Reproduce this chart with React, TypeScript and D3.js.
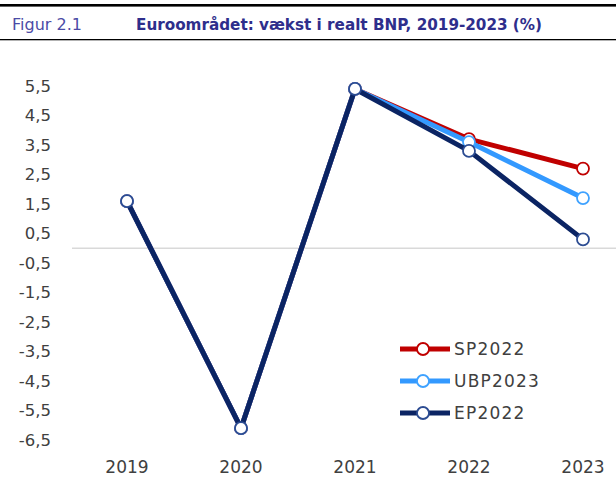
import { useEffect, useRef } from "react";
import * as d3 from "d3";

const W = 616;
const H = 477;

const years = ["2019", "2020", "2021", "2022", "2023"];
const tickValues = [5.5, 4.5, 3.5, 2.5, 1.5, 0.5, -0.5, -1.5, -2.5, -3.5, -4.5, -5.5, -6.5];

const sp2022 = [1.6, -6.1, 5.4, 3.7, 2.7];
const ubp2023 = [1.6, -6.1, 5.4, 3.6, 1.7];
const ep2022 = [1.6, -6.1, 5.4, 3.3, 0.3];

const seriesNames = ["SP2022", "UBP2023", "EP2022"];
const lineColors = ["#C00000", "#3399FF", "#0B2463"];
const markerColors = ["#C00000", "#3FA2FF", "#2C4C92"];

export default function App() {
  const svgRef = useRef<SVGSVGElement | null>(null);

  useEffect(() => {
    const svg = d3.select(svgRef.current);
    svg.selectAll("*").remove();

    // header
    svg.append("rect").attr("x", 0).attr("y", 4).attr("width", W).attr("height", 2.6).attr("fill", "#000");
    svg.append("rect").attr("x", 0).attr("y", 39).attr("width", W).attr("height", 1.3).attr("fill", "#000");
    svg
      .append("text")
      .attr("x", 12)
      .attr("y", 30)
      .attr("fill", "#4B4BA6")
      .style("font-family", "'DejaVu Sans'")
      .style("font-size", "16px")
      .text("Figur 2.1");
    svg
      .append("text")
      .attr("x", 136)
      .attr("y", 30)
      .attr("fill", "#2E2E8C")
      .attr("textLength", 406)
      .attr("lengthAdjust", "spacingAndGlyphs")
      .style("font-family", "'DejaVu Sans'")
      .style("font-weight", "bold")
      .style("font-size", "16px")
      .text("Euroområdet: vækst i realt BNP, 2019-2023 (%)");

    const x = d3.scalePoint().domain(years).range([127, 583]);
    const y = d3.scaleLinear().domain([-6.5, 5.5]).range([440, 86]);

    // zero line
    svg
      .append("line")
      .attr("x1", 72)
      .attr("x2", W)
      .attr("y1", y(0))
      .attr("y2", y(0))
      .attr("stroke", "#D9D9D9")
      .attr("stroke-width", 1.3);

    // y ticks
    svg
      .append("g")
      .selectAll("text")
      .data(tickValues)
      .join("text")
      .attr("x", 51)
      .attr("y", (d) => y(d))
      .attr("dy", "0.35em")
      .attr("text-anchor", "end")
      .attr("fill", "#404040")
      .style("font-family", "'DejaVu Sans'")
      .style("font-size", "16.5px")
      .text((d) => d3.format(".1f")(d).replace(".", ",").replace("−", "-"));

    // x ticks
    svg
      .append("g")
      .selectAll("text")
      .data(years)
      .join("text")
      .attr("x", (d) => x(d)!)
      .attr("y", 467)
      .attr("dy", "0.35em")
      .attr("text-anchor", "middle")
      .attr("fill", "#404040")
      .style("font-family", "'DejaVu Sans'")
      .style("font-size", "17px")
      .text((d) => d);

    const allSeries = [sp2022, ubp2023, ep2022];
    const line = d3
      .line<number>()
      .x((_, i) => x(years[i])!)
      .y((d) => y(d));

    allSeries.forEach((vals, si) => {
      const g = svg.append("g");
      g.append("path")
        .attr("d", line(vals))
        .attr("fill", "none")
        .attr("stroke", lineColors[si])
        .attr("stroke-width", 5)
        .attr("stroke-linejoin", "round");
      g.selectAll("circle")
        .data(vals)
        .join("circle")
        .attr("cx", (_, i) => x(years[i])!)
        .attr("cy", (d) => y(d))
        .attr("r", 6)
        .attr("fill", "#fff")
        .attr("stroke", markerColors[si])
        .attr("stroke-width", 1.8);
    });

    // legend
    const legend = svg
      .append("g")
      .selectAll("g")
      .data(seriesNames)
      .join("g")
      .attr("transform", (_, i) => `translate(0, ${349 + i * 32})`);
    legend
      .append("line")
      .attr("x1", 400)
      .attr("x2", 450)
      .attr("stroke", (_, i) => lineColors[i])
      .attr("stroke-width", 5);
    legend
      .append("circle")
      .attr("cx", 423)
      .attr("r", 6)
      .attr("fill", "#fff")
      .attr("stroke", (_, i) => markerColors[i])
      .attr("stroke-width", 1.8);
    legend
      .append("text")
      .attr("x", 454)
      .attr("dy", "0.36em")
      .attr("fill", "#404040")
      .style("font-family", "'DejaVu Sans'")
      .style("font-size", "17px")
      .style("letter-spacing", "1.2px")
      .text((d) => d);
  }, []);

  return (
    <svg
      ref={svgRef}
      width={W}
      height={H}
      style={{ position: "absolute", left: 0, top: 0, background: "#fff" }}
    />
  );
}
